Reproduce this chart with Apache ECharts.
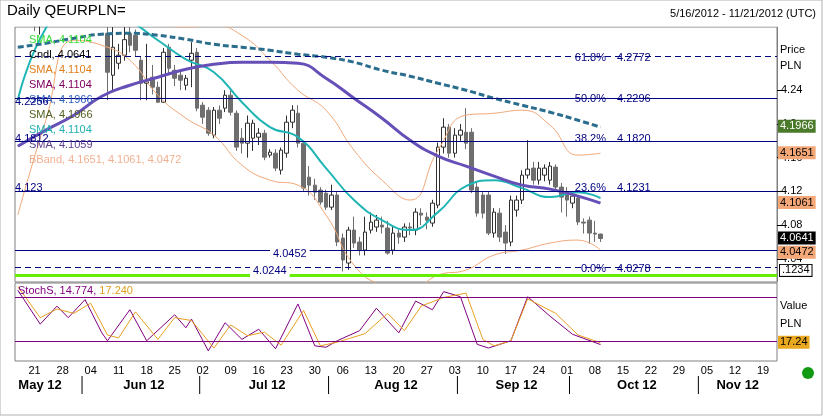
<!DOCTYPE html>
<html>
<head>
<meta charset="utf-8">
<script src="https://cdn.jsdelivr.net/npm/echarts@6/dist/echarts.min.js"></script>
<style>
  html, body { margin: 0; padding: 0; background: #fff; }
  #main { width: 823px; height: 416px; }
</style>
</head>
<body>
<div id="main"></div>
<script>
// trading days May 16 2012 .. Nov 21 2012
const days = [];
for (let d = new Date(Date.UTC(2012, 4, 16)); d <= new Date(Date.UTC(2012, 10, 21)); d.setUTCDate(d.getUTCDate() + 1)) {
  const w = d.getUTCDay();
  if (w !== 0 && w !== 6) days.push(d.toISOString().slice(0, 10));
}
const monthLabels = ['May 12', 'Jun 12', 'Jul 12', 'Aug 12', 'Sep 12', 'Oct 12', 'Nov 12'];

// [open, close, low, high]
const ohlc = [
  [4.33, 4.336, 4.322, 4.345], [4.336, 4.345, 4.33, 4.352], [4.345, 4.338, 4.33, 4.35], [4.338, 4.325, 4.31, 4.34],
  [4.325, 4.33, 4.306, 4.338], [4.33, 4.34, 4.32, 4.345], [4.34, 4.352, 4.335, 4.36], [4.352, 4.36, 4.345, 4.368],
  [4.36, 4.355, 4.345, 4.37], [4.355, 4.345, 4.335, 4.36], [4.345, 4.35, 4.335, 4.358], [4.35, 4.34, 4.33, 4.355],
  [4.34, 4.345, 4.33, 4.35], [4.345, 4.335, 4.325, 4.35], [4.335, 4.325, 4.318, 4.34], [4.325, 4.32, 4.316, 4.33],
  [4.3075, 4.2613, 4.2282, 4.315], [4.2578, 4.291, 4.2376, 4.315], [4.272, 4.2815, 4.265, 4.295], [4.2815, 4.30, 4.275, 4.315],
  [4.3075, 4.2933, 4.285, 4.315], [4.305, 4.2874, 4.28, 4.312], [4.2756, 4.2483, 4.2282, 4.28], [4.2483, 4.25, 4.2282, 4.295],
  [4.2554, 4.2436, 4.235, 4.27], [4.2436, 4.2258, 4.225, 4.25], [4.2258, 4.285, 4.225, 4.29], [4.291, 4.266, 4.26, 4.295],
  [4.2637, 4.2542, 4.245, 4.27], [4.2578, 4.2519, 4.24, 4.265], [4.2459, 4.2542, 4.24, 4.258], [4.2756, 4.2838, 4.2436, 4.297],
  [4.285, 4.2187, 4.215, 4.29], [4.2222, 4.208, 4.20, 4.226], [4.2163, 4.189, 4.186, 4.22], [4.1867, 4.2163, 4.183, 4.22],
  [4.2163, 4.2068, 4.20, 4.222], [4.2187, 4.2341, 4.214, 4.24], [4.2341, 4.2139, 4.21, 4.24], [4.2127, 4.1725, 4.168, 4.216],
  [4.1831, 4.1772, 4.165, 4.195], [4.1772, 4.2009, 4.16, 4.21], [4.1831, 4.2009, 4.168, 4.205], [4.1843, 4.189, 4.175, 4.195],
  [4.189, 4.1606, 4.157, 4.193], [4.163, 4.1665, 4.16, 4.17], [4.1653, 4.1476, 4.144, 4.17], [4.1452, 4.1689, 4.14, 4.172],
  [4.1653, 4.2021, 4.16, 4.21], [4.2021, 4.2163, 4.195, 4.2222], [4.2127, 4.1772, 4.172, 4.2222], [4.1772, 4.1239, 4.12, 4.18],
  [4.1369, 4.1274, 4.115, 4.15], [4.1274, 4.1191, 4.11, 4.135], [4.1215, 4.1073, 4.104, 4.125], [4.1179, 4.1013, 4.098, 4.122],
  [4.1013, 4.1156, 4.098, 4.128], [4.1156, 4.0599, 4.055, 4.12], [4.0646, 4.0386, 4.025, 4.07], [4.035, 4.0741, 4.027, 4.078],
  [4.0741, 4.0587, 4.053, 4.09], [4.0599, 4.0504, 4.044, 4.066], [4.0504, 4.0717, 4.044, 4.09], [4.0741, 4.0836, 4.07, 4.095],
  [4.0777, 4.0859, 4.072, 4.092], [4.08, 4.0777, 4.07, 4.09], [4.0765, 4.0468, 4.045, 4.085], [4.0504, 4.0705, 4.045, 4.078],
  [4.0705, 4.0658, 4.058, 4.075], [4.0658, 4.0777, 4.06, 4.082], [4.0777, 4.0765, 4.068, 4.083], [4.0741, 4.0954, 4.068, 4.10],
  [4.0942, 4.0919, 4.08, 4.10], [4.0895, 4.0859, 4.075, 4.095], [4.0824, 4.1061, 4.078, 4.11], [4.1037, 4.1725, 4.10, 4.178],
  [4.1725, 4.1962, 4.165, 4.2068], [4.1962, 4.1653, 4.16, 4.20], [4.1653, 4.1867, 4.16, 4.195], [4.1867, 4.1926, 4.18, 4.20],
  [4.1902, 4.1772, 4.17, 4.2187], [4.1902, 4.1215, 4.118, 4.195], [4.1251, 4.0942, 4.09, 4.13], [4.1156, 4.0942, 4.088, 4.12],
  [4.1156, 4.0705, 4.068, 4.12], [4.0705, 4.0954, 4.065, 4.10], [4.0942, 4.0658, 4.06, 4.10], [4.0717, 4.0587, 4.0457, 4.08],
  [4.0599, 4.1097, 4.055, 4.115], [4.0978, 4.1097, 4.09, 4.115], [4.1097, 4.1393, 4.105, 4.145], [4.1393, 4.1464, 4.135, 4.1808],
  [4.1476, 4.1333, 4.128, 4.155], [4.1333, 4.1476, 4.128, 4.155], [4.1393, 4.1476, 4.132, 4.152], [4.1333, 4.15, 4.128, 4.155],
  [4.1488, 4.1251, 4.12, 4.152], [4.1251, 4.1132, 4.095, 4.13], [4.1179, 4.1097, 4.09, 4.125], [4.1061, 4.1144, 4.10, 4.12],
  [4.112, 4.0836, 4.08, 4.115], [4.0836, 4.0824, 4.07, 4.088], [4.0859, 4.0705, 4.058, 4.09], [4.0705, 4.0693, 4.06, 4.085],
  [4.0693, 4.0641, 4.06, 4.07]
];

// [day index, value] samples
const sma200 = [[0,4.291],[5,4.2957],[10,4.3016],[15,4.3064],[20,4.3075],[25,4.3052],[30,4.3004],[35,4.2945],[40,4.291],[45,4.2874],[50,4.2827],[55,4.2791],[60,4.2732],[65,4.2637],[70,4.2566],[75,4.2483],[80,4.24],[85,4.2305],[90,4.2222],[95,4.2139],[100,4.2044],[104,4.1962]];
const sma50 = [[0,4.1736],[5,4.1926],[10,4.2104],[15,4.2329],[20,4.2459],[25,4.2554],[30,4.2649],[35,4.2708],[40,4.2732],[45,4.2732],[50,4.272],[55,4.2542],[60,4.2305],[65,4.2068],[70,4.1808],[75,4.1618],[80,4.15],[85,4.1381],[90,4.1274],[95,4.1227],[100,4.1144],[104,4.1061]];
const sma20 = [[0,4.2282],[5,4.3135],[10,4.34],[15,4.335],[20,4.322],[25,4.2993],[30,4.2767],[35,4.2613],[40,4.2258],[45,4.1962],[50,4.1843],[55,4.1476],[60,4.1097],[65,4.0859],[70,4.0741],[75,4.0954],[80,4.1262],[85,4.1333],[90,4.1239],[95,4.1132],[100,4.1191],[104,4.112]];
const bbUpper = [[0,4.45],[5,4.42],[10,4.38],[15,4.35],[20,4.33],[25,4.32],[30,4.315],[35,4.317],[40,4.305],[45,4.2756],[50,4.24],[55,4.2163],[60,4.1689],[65,4.1333],[70,4.1097],[75,4.1689],[80,4.2104],[85,4.2127],[90,4.2163],[95,4.1985],[100,4.163],[104,4.1653]];
const bbLower = [[0,4.0919],[5,4.2044],[10,4.2993],[15,4.2933],[20,4.2756],[25,4.2341],[30,4.2068],[35,4.1867],[40,4.1511],[45,4.1333],[50,4.1274],[55,4.0919],[60,4.0326],[65,4.0089],[70,4.003],[75,4.0208],[80,4.0267],[85,4.0445],[90,4.0504],[95,4.0587],[100,4.0622],[104,4.0504]];
const stochK = [[0,90],[4,43],[7,68],[9,52],[12,77],[15,31],[16,20],[20,63],[23,20],[28,56],[30,38],[31,50],[34,6],[37,45],[40,22],[43,36],[46,9],[50,71],[53,13],[55,11],[57,20],[61,34],[64,65],[68,31],[71,75],[74,63],[76,88],[79,81],[82,15],[84,10],[88,20],[91,81],[95,54],[99,29],[104,14.774]];
const stochD = [[0,95],[4,52],[7,64],[10,58],[13,72],[16,28],[18,24],[21,60],[25,22],[28,52],[31,48],[35,10],[38,42],[41,27],[44,32],[47,14],[51,62],[54,13],[57,18],[62,30],[66,58],[69,34],[72,68],[76,80],[80,86],[83,22],[85,13],[88,20],[91,78],[96,58],[100,28],[104,17.24]];

const fibLevels = [['61.8%', 4.2772], ['50.0%', 4.2296], ['38.2%', 4.182], ['23.6%', 4.1231], ['0.0%', 4.0278]];
const solidLevels = [4.2256, 4.1812, 4.1231, 4.0452];
const greenLevel = 4.0244;
const priceTicks = [4.04, 4.08, 4.12, 4.16, 4.2, 4.24];
const legendRows = [
  ['SMA, 4.1104', '#33dd33'], ['Cndl, 4.0641', '#000000'], ['SMA, 4.1104', '#e08020'], ['SMA, 4.1104', '#800060'],
  ['SMA, 4.1966', '#3060c0'], ['SMA, 4.1966', '#506020'], ['SMA, 4.1104', '#20b0b0'], ['SMA, 4.1059', '#604090'],
  ['BBand, 4.1651, 4.1061, 4.0472', '#f0b090']
];
const priceBoxes = [[4.1966, '#4a7a2a', '#fff'], [4.1651, '#f4a878', '#000'], [4.1061, '#f4a878', '#000'], [4.0641, '#000', '#fff'], [4.0472, '#f4a878', '#000']];

const chart = echarts.init(document.getElementById('main'));
const font = 'Arial, "Liberation Sans", sans-serif';
const lineMk = (y, type, color, width) => ({ yAxis: y, lineStyle: { type: type, color: color, width: width } });

const option = {
  animation: false,
  textStyle: { fontFamily: font },
  grid: [
    { left: 15, right: 46, top: 27, height: 255, show: true, borderColor: '#808080', backgroundColor: '#fff' },
    { left: 15, right: 46, top: 283, height: 78, show: true, borderColor: '#808080', backgroundColor: '#fff' }
  ],
  xAxis: [
    { type: 'category', gridIndex: 0, data: days, boundaryGap: true, axisLine: { show: false }, axisTick: { show: false }, axisLabel: { show: false } },
    {
      type: 'category', gridIndex: 1, data: days, boundaryGap: true,
      axisLine: { show: false }, axisTick: { show: false },
      axisLabel: {
        interval: (i, v) => new Date(v + 'T00:00:00Z').getUTCDay() === 1,
        formatter: v => v.slice(8, 10), fontSize: 11, color: '#000', margin: 4
      }
    }
  ],
  yAxis: [
    {
      type: 'value', gridIndex: 0, position: 'right', min: 4.0125, max: 4.315, scale: true,
      splitLine: { show: false }, axisLine: { show: true, lineStyle: { color: '#808080' } },
      axisTick: { show: true, customValues: priceTicks, lineStyle: { color: '#000' } },
      axisLabel: { customValues: priceTicks, fontSize: 11, color: '#000', margin: 4, formatter: v => String(+v.toFixed(2)) }
    },
    { type: 'value', gridIndex: 1, position: 'right', min: -8, max: 100, splitLine: { show: false }, axisLine: { show: false }, axisTick: { show: false }, axisLabel: { show: false } }
  ],
  series: [
    {
      type: 'candlestick', xAxisIndex: 0, yAxisIndex: 0, data: ohlc, barWidth: 4, clip: true,
      itemStyle: { color: '#ffffff', color0: '#6e6e6e', borderColor: '#303030', borderColor0: '#6e6e6e', borderWidth: 1 },
      markLine: {
        silent: true, symbol: 'none', label: { show: false },
        data: [
          ...fibLevels.map(f => lineMk(f[1], [6, 4], '#000080', 1)),
          ...solidLevels.map(v => lineMk(v, 'solid', '#000080', 1)),
          lineMk(greenLevel, 'solid', '#66ee00', 3)
        ]
      }
    },
    { type: 'line', data: bbUpper, smooth: true, symbol: 'none', clip: true, lineStyle: { color: '#f0a878', width: 1 } },
    { type: 'line', data: bbLower, smooth: true, symbol: 'none', clip: true, lineStyle: { color: '#f0a878', width: 1 } },
    { type: 'line', data: sma20, smooth: true, symbol: 'none', clip: true, lineStyle: { color: '#1fb5b5', width: 2 } },
    { type: 'line', data: sma50, smooth: true, symbol: 'none', clip: true, lineStyle: { color: '#6650b8', width: 3 } },
    { type: 'line', data: sma200, smooth: true, symbol: 'none', clip: true, lineStyle: { color: '#2b6d8c', width: 3, type: [6, 3] } },
    {
      type: 'line', xAxisIndex: 1, yAxisIndex: 1, data: stochK, symbol: 'none', lineStyle: { color: '#800080', width: 1 },
      markLine: { silent: true, symbol: 'none', label: { show: false }, data: [lineMk(80, 'solid', '#800080', 1), lineMk(20, 'solid', '#800080', 1)] }
    },
    { type: 'line', xAxisIndex: 1, yAxisIndex: 1, data: stochD, symbol: 'none', lineStyle: { color: '#e8a020', width: 1 } }
  ]
};
chart.setOption(option);

const py = v => chart.convertToPixel({ yAxisIndex: 0 }, v);
const sy = v => chart.convertToPixel({ yAxisIndex: 1 }, v);
const txt = (x, y, text, extra) => ({ type: 'text', x: x, y: y, z: 100, style: Object.assign({ text: text, font: '11px ' + font, fill: '#000' }, extra || {}) });
const g = [];

// cover anything that pokes above the price pane
g.push({ type: 'rect', z: 90, shape: { x: 1, y: 1, width: 820, height: 25.5 }, style: { fill: '#fff' } });
g.push({ type: 'rect', z: 95, shape: { x: 0, y: 0, width: 822, height: 415 }, style: { fill: 'none', stroke: '#b0b0b0' }, silent: true });
g.push(txt(7, 3, 'Daily QEURPLN=', { font: '15px ' + font }));
g.push(txt(816, 8, '5/16/2012 - 11/21/2012 (UTC)', { align: 'right' }));
g.push(txt(780, 44, 'Price'));
g.push(txt(780, 60, 'PLN'));
g.push(txt(780, 300, 'Value'));
g.push(txt(780, 318, 'PLN'));

legendRows.forEach((r, i) => g.push(txt(29, 34 + i * 15, r[0], { fill: r[1] })));
g.push(txt(15, py(4.2256) - 6, '4.2256', { fill: '#000080' }));
g.push(txt(15, py(4.1812) - 6, '4.1812', { fill: '#000080' }));
g.push(txt(15, py(4.1231) - 6, '4.123', { fill: '#000080' }));
g.push(txt(270, py(4.0452) - 6, '4.0452', { fill: '#000080', backgroundColor: '#fff', padding: [0, 3] }));
g.push(txt(250, py(greenLevel) - 6, '4.0244', { fill: '#000080', backgroundColor: '#fff', padding: [0, 3] }));
fibLevels.forEach(f => {
  g.push(txt(606, py(f[1]) - 6, f[0], { fill: '#000080', align: 'right' }));
  g.push(txt(617, py(f[1]) - 6, f[1].toFixed(4), { fill: '#000080' }));
});
g.push({ type: 'rect', z: 99, shape: { x: 778, y: py(4.1104) - 3, width: 34, height: 5 }, style: { fill: '#20b8b8' } });
priceBoxes.forEach(b => g.push(txt(778, py(b[0]) - 7, b[0].toFixed(4), { fill: b[2], backgroundColor: b[1], padding: [1, 2] })));
g.push(txt(780, py(4.0245) - 7, '.1234', { backgroundColor: '#fff', borderColor: '#000', borderWidth: 1, padding: [0, 2] }));

g.push({ type: 'text', x: 18, y: 285, z: 100, style: { text: '{a|StochS, 14.774, }{b|17.240}', font: '11px ' + font, rich: { a: { fill: '#800080', font: '11px ' + font }, b: { fill: '#e0a020', font: '11px ' + font } } } });
g.push(txt(778, sy(17.24) - 7, '17.24', { backgroundColor: '#e8a820', padding: [1, 2] }));

// month labels and separators
const monthStarts = [0, 12, 33, 56, 79, 99, 122];
const monthEnds = [12, 33, 56, 79, 99, 122, days.length];
const xp = i => chart.convertToPixel({ xAxisIndex: 1 }, i);
monthLabels.forEach((m, k) => {
  if (k > 0) {
    const sx = xp(monthStarts[k]) - 3;
    g.push({ type: 'line', shape: { x1: sx, y1: 376, x2: sx, y2: 394 }, style: { stroke: '#000', lineWidth: 1 } });
  }
  const mid = k === 0 ? 40 : (xp(monthStarts[k]) + xp(Math.min(monthEnds[k], days.length - 1))) / 2;
  g.push(txt(mid, 379, m, { align: 'center', font: 'bold 13px ' + font }));
});
g.push({ type: 'circle', shape: { cx: 808, cy: 373, r: 6 }, style: { fill: '#119911' } });

chart.setOption({ graphic: g });
</script>
</body>
</html>
